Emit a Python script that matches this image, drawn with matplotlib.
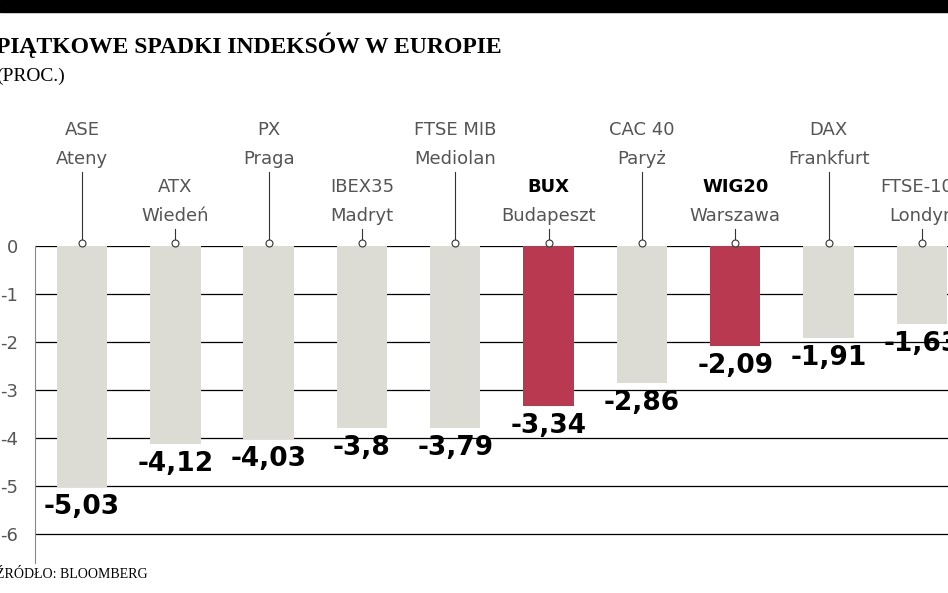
import matplotlib.pyplot as plt
from matplotlib.patches import Rectangle

names = ["ASE", "ATX", "PX", "IBEX35", "FTSE MIB", "BUX", "CAC 40", "WIG20", "DAX", "FTSE-100"]
cities = ["Ateny", "Wiedeń", "Praga", "Madryt", "Mediolan", "Budapeszt", "Paryż", "Warszawa", "Frankfurt", "Londyn"]
values = [-5.03, -4.12, -4.03, -3.8, -3.79, -3.34, -2.86, -2.09, -1.91, -1.63]
labels = ["-5,03", "-4,12", "-4,03", "-3,8", "-3,79", "-3,34", "-2,86", "-2,09", "-1,91", "-1,63"]
highlight = ["BUX", "WIG20"]
yticks = [0, -1, -2, -3, -4, -5, -6]

GRAY = "#dcdcd5"
RED = "#b93a50"
TXT = "#555555"
NARROW = ["Liberation Sans Narrow", "DejaVu Sans"]

W, H = 948, 593
fig = plt.figure(figsize=(W / 100, H / 100), dpi=100)
fig.patch.set_facecolor("white")
fig.add_artist(Rectangle((0, 1 - 12 / H), 1, 12 / H, transform=fig.transFigure, color="black"))

fig.text(-0.004, 1 - 45 / H, "PIĄTKOWE SPADKI INDEKSÓW W EUROPIE", fontsize=17, fontweight="bold",
         family="Liberation Serif", va="center", ha="left")
fig.text(-0.004, 1 - 76 / H, "(PROC.)", fontsize=14, family="Liberation Serif", va="center", ha="left")
fig.text(-0.004, 1 - 574 / H, "ŹRÓDŁO: BLOOMBERG", fontsize=10, family="Liberation Serif", va="center", ha="left")

ymin = -6.6
top_px, unit = 246, 48
bottom_px = top_px + (-ymin) * unit
ax = fig.add_axes([35 / W, 1 - bottom_px / H, 913 / W, (bottom_px - top_px) / H])
ax.set_xlim(-0.504, 9.28)
ax.set_ylim(ymin, 0)

for y in yticks:
    ax.axhline(y, color="black", lw=0.9, zorder=1)

for i, (n, v) in enumerate(zip(names, values)):
    c = RED if n in highlight else GRAY
    ax.bar(i, v, width=0.54, color=c, zorder=2)
    ax.annotate(labels[i], (i, v), xytext=(0, -5), textcoords="offset points", ha="center", va="top",
                fontsize=19, fontweight="bold", family=NARROW, zorder=3)
    low = i % 2 == 1
    y1 = 187 if low else 130
    y2 = y1 + 29
    fw = "bold" if n in highlight else "normal"
    col = "black" if n in highlight else TXT
    ax.text(i, (top_px - y1) / unit, n, ha="center", va="center", fontsize=13, family=NARROW,
            fontweight=fw, color=col, clip_on=False)
    ax.text(i, (top_px - y2) / unit, cities[i], ha="center", va="center", fontsize=13, family=NARROW,
            color=TXT, clip_on=False)
    ax.plot([i, i], [(top_px - y2 - 13) / unit, 3 / unit], color="#333333", lw=0.8, clip_on=False)
    ax.plot(i, 3 / unit, "o", ms=5, mfc="white", mec="#333333", mew=0.8, clip_on=False, zorder=4)

ax.set_yticks(yticks)
ax.set_yticklabels([str(t) for t in yticks], fontsize=13, color=TXT, family=NARROW)
ax.tick_params(axis="y", length=0, pad=12)
ax.set_xticks([])
for s in ["top", "right", "bottom"]:
    ax.spines[s].set_visible(False)
ax.spines["left"].set_color("#888888")

fig.savefig("out.png", dpi=100)
